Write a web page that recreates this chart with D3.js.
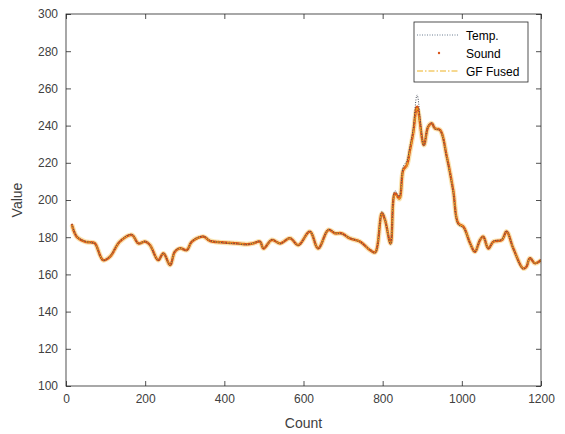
<!DOCTYPE html>
<html>
<head>
<meta charset="utf-8">
<script src="https://cdn.jsdelivr.net/npm/d3@7"></script>
<style>
  body { margin: 0; background: #fff; }
  text { font-family: "Liberation Sans", Arial, sans-serif; }
</style>
</head>
<body>
<div id="chart"></div>
<script>
// ---------- data ----------
const counts = [15, 27, 48, 65, 73, 94, 111, 136, 166, 183, 200, 212, 233, 246, 263, 275, 288, 305, 318, 347, 364, 397, 431, 457, 473, 490, 499, 520, 541, 566, 587, 616, 637, 663, 680, 696, 717, 743, 768, 781, 798, 806, 820, 831, 842, 852, 861, 869, 877, 887, 904, 915, 924, 932, 945, 962, 978, 991, 1004, 1021, 1033, 1046, 1054, 1067, 1080, 1101, 1113, 1130, 1155, 1163, 1172, 1185, 1200];
const soundValues = [186.6, 180.3, 177.6, 177.2, 176.7, 167.7, 169.5, 177.6, 181.2, 176.7, 177.6, 175.8, 167.7, 171.3, 165.1, 172.2, 174, 173.1, 177.6, 180.3, 178, 177.2, 176.7, 176.2, 176.7, 177.6, 174, 178.5, 176.7, 179.4, 175.8, 183, 174, 183.9, 182.1, 182.1, 179.4, 177.6, 173.1, 171.9, 192.8, 189.2, 176.7, 203.6, 200.9, 216.1, 218.8, 226.9, 235.9, 250.2, 229.6, 239.4, 241.2, 238.5, 237.6, 223.3, 205.4, 187.5, 185.6, 176.7, 172.2, 178.5, 180.3, 174, 177.6, 178.5, 183, 174, 163.2, 164.1, 168.7, 166, 167.7];
const fusedValues = [186.6, 180.3, 177.6, 177.2, 176.7, 167.7, 169.5, 177.6, 181.2, 176.7, 177.6, 175.8, 167.7, 171.3, 165.1, 172.2, 174, 173.1, 177.6, 180.3, 178, 177.2, 176.7, 176.2, 176.7, 177.6, 174, 178.5, 176.7, 179.4, 175.8, 183, 174, 183.9, 182.1, 182.1, 179.4, 177.6, 173.1, 171.9, 192.8, 189.2, 176.7, 203, 200.5, 216, 218.5, 226.5, 235.5, 249.5, 229.6, 239.4, 241.2, 238.5, 237.6, 223.3, 205.4, 187.5, 185.6, 176.7, 172.2, 178.5, 180.3, 174, 177.6, 178.5, 183, 174, 163.2, 164.1, 168.7, 166, 167.7];
const tempValues = [187, 180.5, 177.8, 177, 176.5, 167.5, 169.8, 177.8, 181.5, 176.5, 177.8, 175.5, 167.5, 171.5, 164.8, 172.5, 174.2, 172.8, 177.8, 180.5, 178.2, 177, 176.5, 176, 176.8, 177.8, 173.8, 178.8, 176.5, 179.6, 175.5, 183.3, 173.8, 184.2, 182.3, 181.8, 179.6, 177.4, 173.3, 171.5, 194, 189.5, 176, 205, 202, 218, 221, 229, 238, 256.5, 229, 239.8, 241.5, 238.3, 237.2, 222.5, 204.5, 186.8, 185, 176.5, 172, 178.8, 180.5, 173.8, 177.8, 178.8, 183.3, 173.8, 162.8, 164.3, 169, 165.8, 168];
const xTicks = [0, 200, 400, 600, 800, 1000, 1200];
const yTicks = [100, 120, 140, 160, 180, 200, 220, 240, 260, 280, 300];
const legendLabels = ["Temp.", "Sound", "GF Fused"];

// ---------- layout ----------
const width = 565, height = 434;
const margin = { top: 14, right: 24, bottom: 48, left: 66 };
const innerW = width - margin.left - margin.right;
const innerH = height - margin.top - margin.bottom;

const svg = d3.select("#chart").append("svg")
    .attr("width", width)
    .attr("height", height);

const g = svg.append("g").attr("transform", `translate(${margin.left},${margin.top})`);

const x = d3.scaleLinear().domain([0, 1200]).range([0, innerW]);
const y = d3.scaleLinear().domain([100, 300]).range([innerH, 0]);

const textColor = "#404040";
const axisColor = "#262626";

// clip
svg.append("defs").append("clipPath").attr("id", "clip")
    .append("rect").attr("width", innerW).attr("height", innerH);

// ---------- series ----------
const line = (vals) => d3.line()
    .x((d, i) => x(counts[i]))
    .y(d => y(d))
    .curve(d3.curveCatmullRom.alpha(0.5))(vals);

const plot = g.append("g").attr("clip-path", "url(#clip)");

// GF Fused soft glow underneath
plot.append("path")
    .attr("d", line(fusedValues))
    .attr("fill", "none")
    .attr("stroke", "#EDB120")
    .attr("stroke-opacity", 0.35)
    .attr("stroke-width", 5);

// Sound (orange dots)
plot.append("path")
    .attr("d", line(soundValues))
    .attr("fill", "none")
    .attr("stroke", "#D95319")
    .attr("stroke-width", 2.6)
    .attr("stroke-linecap", "round")
    .attr("stroke-dasharray", "0.4 1.4");

// GF Fused (yellow dash-dot)
plot.append("path")
    .attr("d", line(fusedValues))
    .attr("fill", "none")
    .attr("stroke", "#EDB120")
    .attr("stroke-width", 1)
    .attr("stroke-dasharray", "6 2 1.5 2");

// Temp (dark dotted)
plot.append("path")
    .attr("d", line(tempValues))
    .attr("fill", "none")
    .attr("stroke", "#4a4f5a")
    .attr("stroke-width", 1)
    .attr("stroke-dasharray", "1 1.5");

// ---------- axes (box with inward ticks) ----------
const tickLen = 5;
g.append("rect")
    .attr("width", innerW).attr("height", innerH)
    .attr("fill", "none").attr("stroke", axisColor).attr("stroke-width", 0.8);

const fmt = d3.format("d");
const axB = g.append("g").attr("transform", `translate(0,${innerH})`)
    .call(d3.axisBottom(x).tickValues(xTicks).tickFormat(fmt).tickSizeInner(-tickLen).tickSizeOuter(0).tickPadding(8));
const axT = g.append("g")
    .call(d3.axisTop(x).tickValues(xTicks).tickSizeInner(-tickLen).tickSizeOuter(0).tickFormat(""));
const axL = g.append("g")
    .call(d3.axisLeft(y).tickValues(yTicks).tickFormat(fmt).tickSizeInner(-tickLen).tickSizeOuter(0).tickPadding(8));
const axR = g.append("g").attr("transform", `translate(${innerW},0)`)
    .call(d3.axisRight(y).tickValues(yTicks).tickSizeInner(-tickLen).tickSizeOuter(0).tickFormat(""));

[axB, axT, axL, axR].forEach(a => {
    a.select(".domain").remove();
    a.selectAll("line").attr("stroke", axisColor).attr("stroke-width", 0.8);
    a.selectAll("text")
        .attr("fill", textColor)
        .style("font-size", "12px")
        .style("font-family", "'Liberation Sans', Arial, sans-serif");
});

// axis titles
g.append("text")
    .attr("x", innerW / 2)
    .attr("y", innerH + 42)
    .attr("text-anchor", "middle")
    .attr("fill", textColor)
    .style("font-size", "14px")
    .text("Count");

g.append("text")
    .attr("transform", `translate(${-44},${innerH / 2}) rotate(-90)`)
    .attr("text-anchor", "middle")
    .attr("fill", textColor)
    .style("font-size", "14px")
    .text("Value");

// ---------- legend ----------
const lg = svg.append("g").attr("transform", "translate(414,22)");
lg.append("rect")
    .attr("width", 114).attr("height", 60)
    .attr("fill", "#fff").attr("stroke", axisColor).attr("stroke-width", 0.8);

const rows = lg.selectAll(".row").data(legendLabels).enter().append("g")
    .attr("transform", (d, i) => `translate(0,${13 + i * 18})`);

rows.append("text")
    .attr("x", 52).attr("y", 4.5)
    .attr("fill", "#000")
    .style("font-size", "12px")
    .text(d => d);

// Temp sample
lg.append("line")
    .attr("x1", 3).attr("x2", 44).attr("y1", 13).attr("y2", 13)
    .attr("stroke", "#6b7c90").attr("stroke-width", 1).attr("stroke-dasharray", "1 1.5");
// Sound sample
lg.append("circle")
    .attr("cx", 25).attr("cy", 31).attr("r", 1.2).attr("fill", "#D95319");
// Fused sample
lg.append("line")
    .attr("x1", 3).attr("x2", 44).attr("y1", 49).attr("y2", 49)
    .attr("stroke", "#EDB120").attr("stroke-width", 1).attr("stroke-dasharray", "6 2 1.5 2");
</script>
</body>
</html>
